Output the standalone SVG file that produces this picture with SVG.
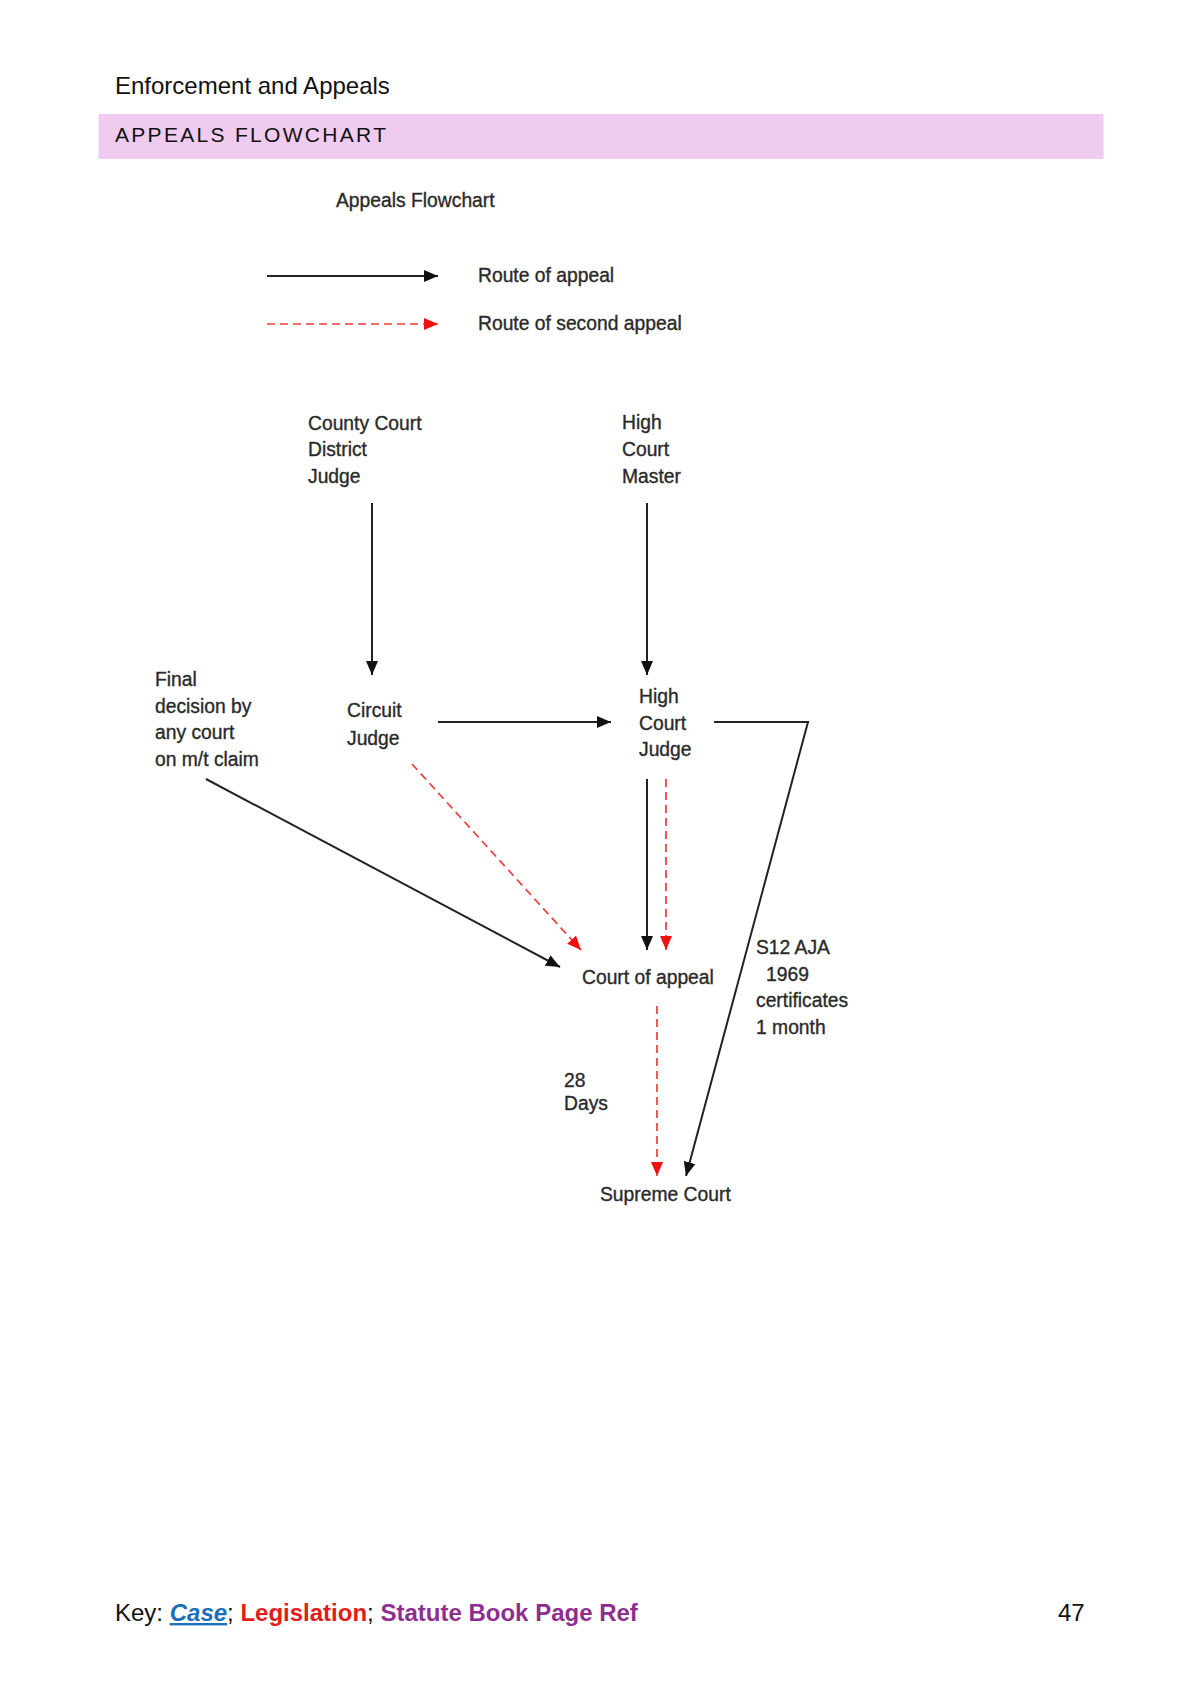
<svg xmlns="http://www.w3.org/2000/svg" width="1200" height="1697" viewBox="0 0 1200 1697">
<defs>
<style>
.hdr{font-family:"Liberation Sans",Arial,sans-serif;font-size:24px;fill:#111}
.band{fill:#EFCBEF}
.t{font-family:"Liberation Sans",Arial,sans-serif;font-size:19.3px;fill:#2a2a2a;stroke:#2a2a2a;stroke-width:0.35}
.blk{stroke:#222;stroke-width:2;fill:none}
.red{stroke:#F03C3C;stroke-width:1.7;fill:none;stroke-dasharray:8 5}
</style>
<marker id="ab" viewBox="0 0 14 14" refX="14" refY="7" markerWidth="14" markerHeight="14" markerUnits="userSpaceOnUse" orient="auto">
<path d="M0,1 L14,7 L0,13 Z" fill="#111"/>
</marker>
<marker id="ar" viewBox="0 0 14 14" refX="14" refY="7" markerWidth="14" markerHeight="14" markerUnits="userSpaceOnUse" orient="auto">
<path d="M0,1 L14,7 L0,13 Z" fill="#F01010"/>
</marker>
</defs>
<rect width="1200" height="1697" fill="#fff"/>
<text class="hdr" x="115" y="94">Enforcement and Appeals</text>
<rect class="band" x="98.5" y="114" width="1005" height="45"/>
<text class="hdr" x="115" y="142" style="font-size:21px;letter-spacing:2.3px">APPEALS FLOWCHART</text>

<g id="title"><text class="t" x="336" y="207">Appeals Flowchart</text></g>
<g id="legend">
<line class="blk" x1="267" y1="276" x2="438" y2="276" marker-end="url(#ab)"/>
<text class="t" x="478" y="282">Route of appeal</text>
<line class="red" x1="267" y1="324" x2="438" y2="324" marker-end="url(#ar)"/>
<text class="t" x="478" y="330">Route of second appeal</text>
</g>

<g id="county-court"><text class="t" x="308" y="430">County Court</text><text class="t" x="308" y="456">District</text><text class="t" x="308" y="483">Judge</text></g>
<g id="high-court-master"><text class="t" x="622" y="429">High</text><text class="t" x="622" y="456">Court</text><text class="t" x="622" y="483">Master</text></g>
<g id="final-decision"><text class="t" x="155" y="686">Final</text><text class="t" x="155" y="713">decision by</text><text class="t" x="155" y="739">any court</text><text class="t" x="155" y="766">on m/t claim</text></g>
<g id="circuit-judge"><text class="t" x="347" y="717">Circuit</text><text class="t" x="347" y="745">Judge</text></g>
<g id="high-court-judge"><text class="t" x="639" y="703">High</text><text class="t" x="639" y="730">Court</text><text class="t" x="639" y="756">Judge</text></g>
<g id="court-of-appeal"><text class="t" x="582" y="984">Court of appeal</text></g>
<g id="s12-label"><text class="t" x="756" y="954">S12 AJA</text><text class="t" x="766" y="981">1969</text><text class="t" x="756" y="1007">certificates</text><text class="t" x="756" y="1034">1 month</text></g>
<g id="days-label"><text class="t" x="564" y="1087">28</text><text class="t" x="564" y="1110">Days</text></g>
<g id="supreme-court"><text class="t" x="600" y="1201">Supreme Court</text></g>

<g id="connectors">
<line class="blk" x1="372" y1="503" x2="372" y2="675" marker-end="url(#ab)"/>
<line class="blk" x1="647" y1="503" x2="647" y2="675" marker-end="url(#ab)"/>
<line class="blk" x1="438" y1="722" x2="611" y2="722" marker-end="url(#ab)"/>
<polyline class="blk" points="714,722 808,722 686,1176" marker-end="url(#ab)"/>
<line class="blk" x1="647" y1="779" x2="647" y2="950" marker-end="url(#ab)"/>
<line class="red" x1="666" y1="779" x2="666" y2="950" marker-end="url(#ar)"/>
<line class="red" x1="412" y1="764" x2="581" y2="950" marker-end="url(#ar)"/>
<line class="blk" x1="206" y1="779" x2="560" y2="967" marker-end="url(#ab)"/>
<line class="red" x1="657" y1="1006" x2="657" y2="1176" marker-end="url(#ar)"/>
</g>

<text class="hdr" x="115" y="1621">Key: <tspan fill="#1E6FB8" font-weight="bold" font-style="italic" text-decoration="underline">Case</tspan>; <tspan fill="#E21B1B" font-weight="bold">Legislation</tspan>; <tspan fill="#8E2E91" font-weight="bold">Statute Book Page Ref</tspan></text>
<text class="hdr" x="1058" y="1621">47</text>
</svg>
